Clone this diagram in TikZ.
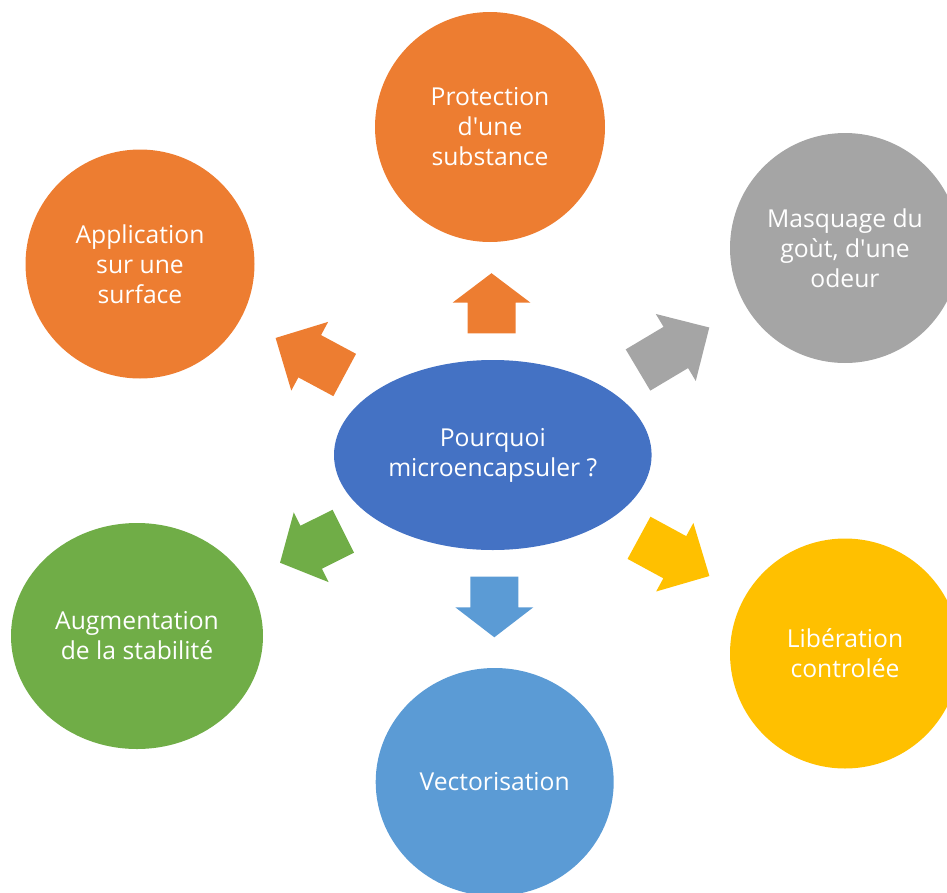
\documentclass[tikz,border=0pt]{standalone}
\usepackage{fontspec}
\setmainfont{Open Sans}
\usetikzlibrary{shapes.geometric}

\definecolor{cblue}{HTML}{4472C4}
\definecolor{corange}{HTML}{ED7D31}
\definecolor{cgray}{HTML}{A5A5A5}
\definecolor{cyellow}{HTML}{FFC000}
\definecolor{clblue}{HTML}{5B9BD5}
\definecolor{cgreen}{HTML}{70AD47}

% straight apostrophe
\newcommand\sq{\textquotesingle}

% block arrow: colour, base midpoint, angle, body length, head length
\newcommand\radialarrow[5]{%
  \fill[#1, shift={#2}, rotate=#3]
    (0,-24) -- (#4,-24) -- (#4,-39) -- (#4+#5,0) -- (#4,39) -- (#4,24) -- (0,24) -- cycle;}

\begin{document}
\begin{tikzpicture}[x=0.75pt, y=-0.75pt,
  bubble/.style={ellipse, inner sep=0pt, text=white, align=center,
    font=\fontsize{18.5}{22.5}\selectfont},
]
\useasboundingbox (0,0) rectangle (947,893);
\clip (0,0) rectangle (947,893);

% central question
\node[bubble, fill=cblue, minimum width=238.2pt, minimum height=142.5pt]
  (center) at (492.8,455) {Pourquoi\\microencapsuler ?};

% surrounding reasons
\node[bubble, fill=corange, minimum width=172.5pt, minimum height=172.5pt]
  (protect) at (490,127) {Protection\\d\sq une\\substance};
\node[bubble, fill=cgray, minimum width=172.5pt, minimum height=172.5pt]
  (mask) at (845,248) {Masquage du\\goùt, d\sq une\\odeur};
\node[bubble, fill=cyellow, minimum width=172.5pt, minimum height=172.5pt]
  (release) at (845,653.5) {Libération\\controlée};
\node[bubble, fill=clblue, minimum width=178.5pt, minimum height=171pt]
  (vector) at (494.7,782) {Vectorisation};
\node[bubble, fill=cgreen, minimum width=189pt, minimum height=169.5pt]
  (stable) at (137,636) {Augmentation\\de la stabilité};
\node[bubble, fill=corange, minimum width=171.75pt, minimum height=171.75pt]
  (surface) at (140,264) {Application\\sur une\\surface};

% radiating block arrows
\radialarrow{corange}{(491.5,333.3)}{90}{30.6}{29.5}
\radialarrow{cgray}{(638,370)}{30.8}{44}{39}
\radialarrow{cyellow}{(639,537.8)}{-28.5}{40.7}{39.4}
\radialarrow{clblue}{(494.3,576.7)}{-90}{30.6}{30}
\radialarrow{cgreen}{(343.3,531.2)}{206.5}{35.9}{34.8}
\radialarrow{corange}{(344.7,375)}{151.8}{39.7}{38.7}
\end{tikzpicture}
\end{document}
